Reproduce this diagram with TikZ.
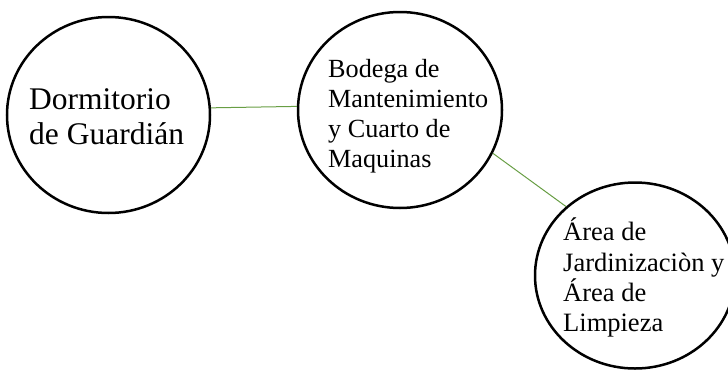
\documentclass[tikz,border=0pt]{standalone}
\usepackage{fontspec}
\setmainfont{Liberation Serif}
\usepackage{tikz}
\usetikzlibrary{shapes.geometric,positioning,calc}

\definecolor{linkgreen}{RGB}{104,158,68}
\definecolor{linklight}{RGB}{200,224,184}

\begin{document}
\begin{tikzpicture}[x=1pt,y=-1pt,
room/.style={ellipse,draw=black,line width=2.5pt,inner sep=0pt},
roomtext/.style={anchor=north west,align=left,inner sep=0pt},
link/.style={draw=linkgreen,line width=1pt,double=linklight,double distance=1.3pt}]
\useasboundingbox (0,0) rectangle (728,370);
% rooms
\node[room,minimum width=203pt,minimum height=196pt] (dorm) at (108.5,115) {};
\node[room,minimum width=204pt,minimum height=196pt] (bodega) at (400,110) {};
\node[room,minimum width=200pt,minimum height=186pt] (jardin) at (635,275.5) {};
% texts
\node[roomtext,font=\fontsize{31.5}{35}\selectfont] (dormtxt) at (29,88.5)
  {Dormitorio\\de Guardián};
\node[roomtext,font=\fontsize{26.2}{30}\selectfont] (bodegatxt) at (328,59)
  {Bodega de\\Mantenimiento\\y Cuarto de\\Maquinas};
\node[roomtext,font=\fontsize{26.5}{30.3}\selectfont] (jardintxt) at (563,218)
  {Área de\\Jardinizaciòn y\\Área de\\Limpieza};
% links
\path[link]
(dorm.4) edge (bodega.178)
(bodega.-25) edge (jardin.135)
;
\end{tikzpicture}
\end{document}
